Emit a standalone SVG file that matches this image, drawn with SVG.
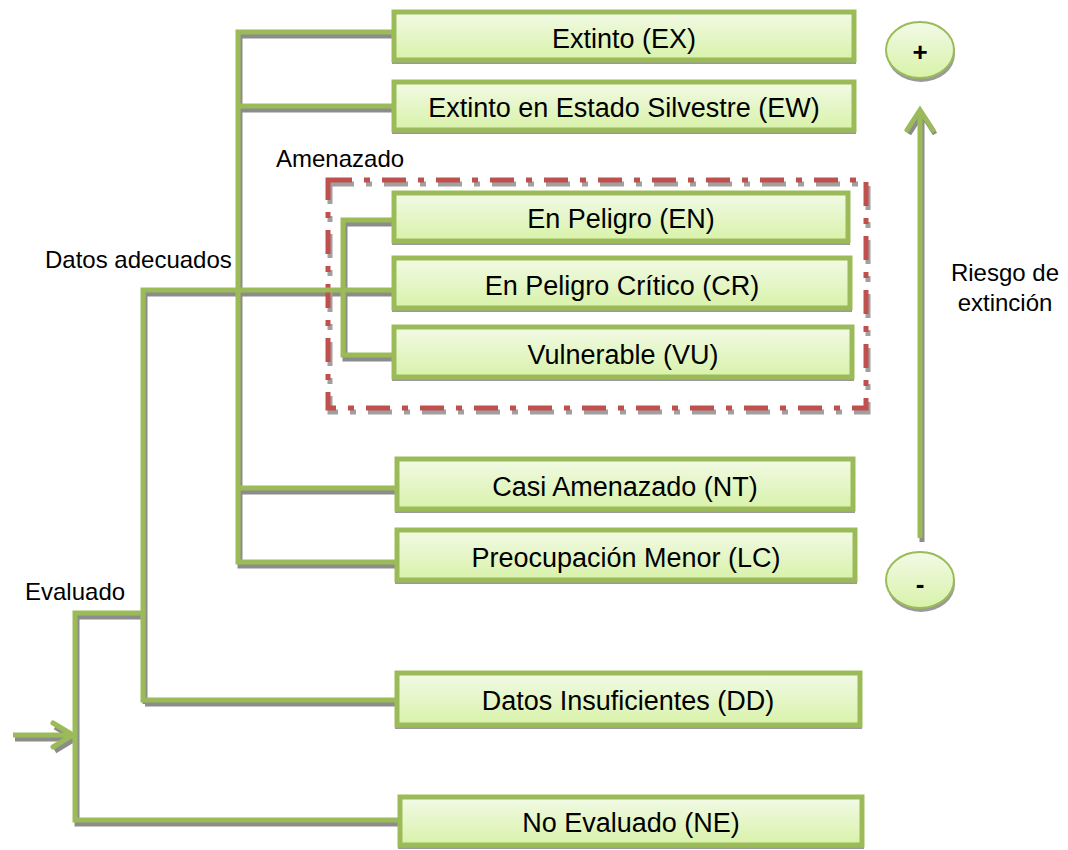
<svg xmlns="http://www.w3.org/2000/svg" width="1068" height="850" viewBox="0 0 1068 850">
<style>
.box{fill:url(#g);stroke:#9BBB59;stroke-width:5}
.sh{fill:#9a9a9a}
.t{font-family:"Liberation Sans",Arial,sans-serif;font-size:27px;fill:#000;text-anchor:middle;dominant-baseline:central}
.lbl{font-family:"Liberation Sans",Arial,sans-serif;font-size:24px;fill:#000}
.ln{fill:none;stroke:#9BBB59;stroke-width:5;stroke-linecap:square;stroke-linejoin:miter}
.lsh{fill:none;stroke:#8c8c8c;stroke-width:5;stroke-linejoin:miter}
.dash{fill:none;stroke:#C0504D;stroke-width:5;stroke-dasharray:24 12 6 12}
.dsh{fill:none;stroke:#a0a0a0;stroke-width:5;stroke-dasharray:24 12 6 12}
.ell{fill:url(#g);stroke:#9BBB59;stroke-width:2}
</style>
<defs>
<linearGradient id="g" x1="0" y1="0" x2="0" y2="1">
<stop offset="0" stop-color="#F2FAE6"/>
<stop offset="1" stop-color="#D8F2A9"/>
</linearGradient>
</defs>
<rect width="1068" height="850" fill="#fff"/>

<g id="connectors">
<g transform="translate(2,4)">
<path class="lsh" d="M394,32 H238 V562 H394 M238,106 H394 M238,488 H397 M143,700 V290 H394 M394,220 H343 V355 H394 M397,700 H143 M75,613 H143 M400,820 H75 V613 M13,735 H73 M53,723 L73,735 L53,747"/>
<path class="lsh" d="M920,538 V110 M907,130 L920,110 L933,130"/>
<rect class="dsh" x="328" y="180" width="538" height="228"/>
</g>
<rect class="dash" x="328" y="180" width="538" height="228"/>
<path class="ln" d="M394,32 H238 V562 H394 M238,106 H394 M238,488 H397"/>
<path class="ln" d="M394,290 H143 V700 H397"/>
<path class="ln" d="M394,220 H343 V355 H394"/>
<path class="ln" d="M143,613 H75 V820 H400"/>
<path class="ln" style="stroke-linecap:butt" d="M13,735 H73"/>
<path class="ln" style="stroke-linecap:round;stroke-linejoin:miter" d="M53,723 L73,735 L53,747"/>
<path class="ln" style="stroke-linecap:butt" d="M920,538 V112"/>
<path class="ln" style="stroke-linecap:round" d="M907,130 L920,110 L933,130"/>
</g>

<g id="n-ex"><rect class="sh" x="392" y="60" width="464" height="4"/><rect class="box" x="394" y="12" width="460" height="48"/><text class="t" x="624" y="39">Extinto (EX)</text></g>
<g id="n-ew"><rect class="sh" x="392" y="130" width="464" height="4"/><rect class="box" x="394" y="82" width="460" height="48"/><text class="t" x="624" y="108">Extinto en Estado Silvestre (EW)</text></g>
<g id="n-en"><rect class="sh" x="392" y="241" width="458" height="4"/><rect class="box" x="394" y="193" width="454" height="48"/><text class="t" x="621" y="219">En Peligro (EN)</text></g>
<g id="n-cr"><rect class="sh" x="392" y="308" width="460" height="4"/><rect class="box" x="394" y="258" width="456" height="50"/><text class="t" x="622" y="286">En Peligro Crítico (CR)</text></g>
<g id="n-vu"><rect class="sh" x="392" y="377" width="462" height="4"/><rect class="box" x="394" y="327" width="458" height="50"/><text class="t" x="623" y="355">Vulnerable (VU)</text></g>
<g id="n-nt"><rect class="sh" x="395" y="509" width="460" height="4"/><rect class="box" x="397" y="459" width="456" height="50"/><text class="t" x="625" y="487">Casi Amenazado (NT)</text></g>
<g id="n-lc"><rect class="sh" x="395" y="580" width="462" height="4"/><rect class="box" x="397" y="530" width="458" height="50"/><text class="t" x="626" y="558">Preocupación Menor (LC)</text></g>
<g id="n-dd"><rect class="sh" x="395" y="725" width="467" height="4"/><rect class="box" x="397" y="673" width="463" height="52"/><text class="t" x="628" y="701">Datos Insuficientes (DD)</text></g>
<g id="n-ne"><rect class="sh" x="398" y="845" width="466" height="4"/><rect class="box" x="400" y="797" width="462" height="48"/><text class="t" x="631" y="823">No Evaluado (NE)</text></g>

<g id="plus"><ellipse cx="921" cy="54" rx="34" ry="28" fill="#9a9a9a"/><ellipse class="ell" cx="920" cy="50" rx="34" ry="28"/><text class="t" x="920" y="52" style="font-weight:bold;font-size:26px">+</text></g>
<g id="minus"><ellipse cx="921" cy="584" rx="34" ry="28" fill="#9a9a9a"/><ellipse class="ell" cx="920" cy="580" rx="34" ry="28"/><text class="t" x="920" y="584" style="font-weight:bold;font-size:26px">-</text></g>

<text class="lbl" x="276" y="167">Amenazado</text>
<text class="lbl" x="45" y="268">Datos adecuados</text>
<text class="lbl" x="25" y="600">Evaluado</text>
<text class="lbl" x="1005" y="281" text-anchor="middle">Riesgo de</text>
<text class="lbl" x="1005" y="311" text-anchor="middle">extinción</text>
</svg>
